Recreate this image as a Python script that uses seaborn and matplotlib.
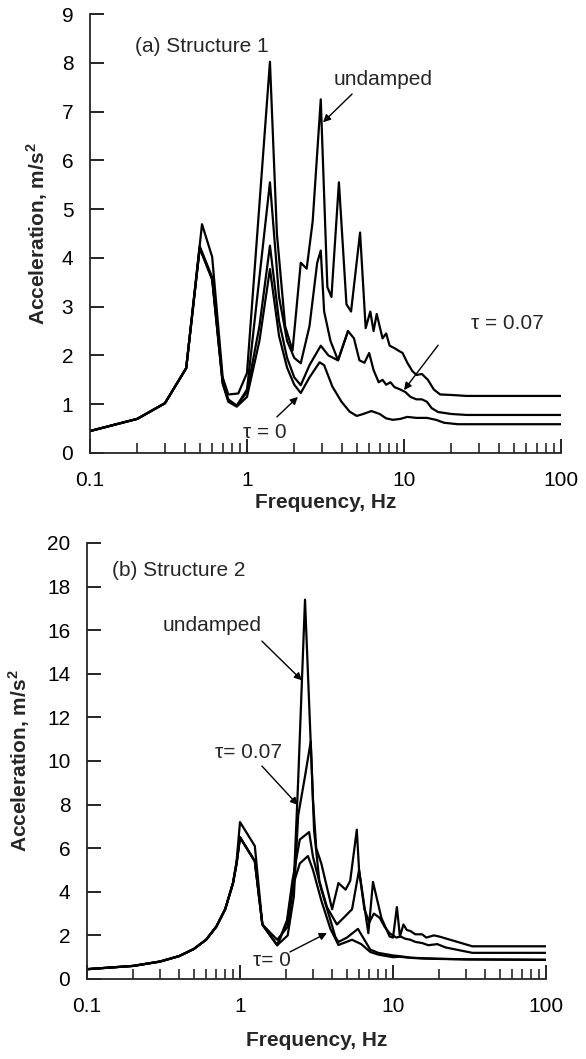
import matplotlib
matplotlib.use("Agg")
import matplotlib.pyplot as plt
from matplotlib.ticker import LogLocator, NullFormatter, FixedLocator
import seaborn as sns
import pandas as pd

# ---------------- data: panel (a) Structure 1 ----------------
a_und_f = [0.1, 0.2, 0.3, 0.41, 0.517, 0.6, 0.7, 0.76, 0.88, 1.0, 1.4, 1.55, 1.75, 1.95, 2.2, 2.4, 2.62,
           2.95, 3.25, 3.45, 3.85, 4.3, 4.6, 5.25, 5.7, 6.1, 6.4, 6.7, 7.3, 7.7, 8.1, 8.7, 9.2, 9.8,
           10.5, 11.3, 12.0, 13.0, 14.2, 15.5, 17, 20, 25, 100]
a_und_v = [0.45, 0.7, 1.02, 1.74, 4.69, 4.02, 1.55, 1.2, 1.22, 1.64, 8.02, 4.5, 2.6, 2.1, 3.9, 3.78, 4.75,
           7.25, 3.4, 3.2, 5.55, 3.05, 2.9, 4.52, 2.56, 2.9, 2.5, 2.85, 2.35, 2.45, 2.2, 2.15, 2.1, 2.05,
           1.85, 1.68, 1.6, 1.62, 1.5, 1.3, 1.2, 1.19, 1.17, 1.17]

a_t007_f = [0.1, 0.2, 0.3, 0.41, 0.5, 0.6, 0.7, 0.76, 0.86, 1.0, 1.4, 1.6, 1.8, 2.0, 2.2, 2.5, 2.8, 2.95,
            3.1, 3.4, 3.8, 4.4, 4.8, 5.2, 5.6, 6.0, 6.4, 6.9, 7.3, 7.7, 8.2, 8.7, 9.5, 10.2, 11, 12, 13,
            14, 15, 16.5, 20, 25, 100]
a_t007_v = [0.45, 0.7, 1.02, 1.74, 4.24, 3.6, 1.45, 1.1, 0.97, 1.3, 5.55, 3.2, 2.3, 1.95, 1.84, 2.6, 3.9,
            4.15, 2.9, 2.3, 1.9, 2.5, 2.35, 1.9, 1.85, 2.05, 1.7, 1.45, 1.5, 1.4, 1.45, 1.35, 1.3, 1.25,
            1.15, 1.1, 1.1, 1.05, 0.92, 0.84, 0.8, 0.78, 0.78]

a_mid_f = [0.1, 0.2, 0.3, 0.41, 0.5, 0.6, 0.7, 0.76, 0.86, 1.0, 1.2, 1.4, 1.6, 1.8, 2.0, 2.2, 2.5, 2.95,
           3.3, 3.8, 4.4]
a_mid_v = [0.45, 0.7, 1.02, 1.74, 4.2, 3.58, 1.45, 1.08, 0.97, 1.25, 2.6, 4.25, 2.7, 1.95, 1.55, 1.39,
           1.8, 2.2, 2.0, 1.9, 2.5]

a_t0_f = [0.1, 0.2, 0.3, 0.41, 0.5, 0.6, 0.7, 0.76, 0.86, 1.0, 1.2, 1.4, 1.6, 1.8, 2.0, 2.2, 2.5, 2.9,
          3.1, 3.5, 4.0, 4.5, 5.0, 5.5, 6.2, 7.0, 7.7, 8.5, 9.5, 10.5, 12, 14, 16, 18, 22, 100]
a_t0_v = [0.45, 0.7, 1.02, 1.74, 4.2, 3.55, 1.42, 1.05, 0.95, 1.15, 2.3, 3.77, 2.4, 1.75, 1.4, 1.23, 1.55,
          1.86, 1.8, 1.36, 1.05, 0.85, 0.76, 0.8, 0.86, 0.8, 0.71, 0.68, 0.7, 0.74, 0.72, 0.72, 0.68,
          0.62, 0.59, 0.59]

# ---------------- data: panel (b) Structure 2 ----------------
b_und_f = [0.1, 0.2, 0.3, 0.4, 0.5, 0.6, 0.7, 0.8, 0.9, 0.95, 1.0, 1.25, 1.4, 1.75, 2.05, 2.25, 2.4, 2.54,
           2.66, 3.0, 3.15, 3.4, 4.0, 4.4, 4.9, 5.25, 5.8, 6.0, 6.9, 7.4, 8.4, 9.5, 10.0, 10.6, 11.1,
           11.7, 12.3, 13.0, 14.0, 15.5, 16.5, 18.5, 20, 25, 33, 100]
b_und_v = [0.45, 0.6, 0.8, 1.05, 1.38, 1.8, 2.4, 3.2, 4.4, 5.4, 7.2, 6.1, 2.5, 1.8, 2.4, 4.5, 9.1, 13.7,
           17.4, 8.2, 6.0, 5.3, 3.2, 4.4, 4.1, 4.5, 6.85, 5.0, 2.1, 4.45, 2.8, 1.95, 1.9, 3.3, 1.95,
           2.5, 2.25, 2.2, 2.05, 2.05, 1.9, 2.0, 1.95, 1.75, 1.5, 1.5]

b_t007_f = [0.1, 0.2, 0.3, 0.4, 0.5, 0.6, 0.7, 0.8, 0.9, 0.95, 1.0, 1.25, 1.4, 1.75, 2.05, 2.25, 2.4,
            2.66, 2.9, 3.05, 3.3, 3.7, 4.3, 4.9, 5.4, 6.0, 6.5, 7.0, 7.5, 8.2, 8.8, 9.5, 10.5, 11.2, 12,
            13, 14, 15.5, 17, 19.5, 22, 28, 33, 100]
b_t007_v = [0.45, 0.6, 0.8, 1.05, 1.38, 1.8, 2.4, 3.2, 4.4, 5.3, 6.5, 5.4, 2.5, 1.55, 2.0, 3.8, 7.5,
            9.3, 10.9, 6.8, 4.5, 3.3, 2.5, 2.9, 3.2, 5.0, 3.2, 2.6, 3.0, 2.8, 2.4, 2.1, 1.9, 1.95,
            1.85, 1.8, 1.7, 1.65, 1.55, 1.6, 1.45, 1.3, 1.2, 1.2]

b_mid_f = [0.1, 0.2, 0.3, 0.4, 0.5, 0.6, 0.7, 0.8, 0.9, 0.95, 1.0, 1.25, 1.4, 1.75, 2.03, 2.2, 2.46,
           2.83, 3.0, 3.4, 3.9, 4.2, 4.4, 5.0, 5.9, 6.5, 7.1, 8.0, 10, 11, 13, 16, 20, 30, 100]
b_mid_v = [0.45, 0.6, 0.8, 1.05, 1.38, 1.8, 2.4, 3.2, 4.4, 5.3, 6.5, 5.4, 2.5, 1.55, 2.7, 4.5, 6.4,
           6.74, 5.6, 4.1, 2.7, 1.93, 1.7, 1.9, 2.3, 1.8, 1.35, 1.2, 1.08, 1.05, 0.98, 0.95, 0.93,
           0.9, 0.88]

b_t0_f = [0.1, 0.2, 0.3, 0.4, 0.5, 0.6, 0.7, 0.8, 0.9, 0.95, 1.0, 1.25, 1.4, 1.75, 2.03, 2.2, 2.46,
          2.78, 3.0, 3.4, 3.9, 4.4, 5.4, 6.2, 7.1, 8.0, 10, 11, 13, 15.6, 20, 30, 100]
b_t0_v = [0.45, 0.6, 0.8, 1.05, 1.38, 1.8, 2.4, 3.2, 4.4, 5.3, 6.5, 5.4, 2.5, 1.55, 2.6, 4.2, 5.3,
          5.64, 5.0, 3.6, 2.3, 1.56, 1.8, 1.6, 1.24, 1.12, 1.0, 1.02, 0.97, 0.94, 0.92, 0.9, 0.88]

x_ticks = [0.1, 1, 10, 100]
x_tick_labels = ["0.1", "1", "10", "100"]
a_y_ticks = [0, 1, 2, 3, 4, 5, 6, 7, 8, 9]
b_y_ticks = [0, 2, 4, 6, 8, 10, 12, 14, 16, 18, 20]

# ---------------- style ----------------
sns.set_style("ticks")
plt.rcParams['font.family'] = ['Liberation Sans', 'DejaVu Sans']
plt.rcParams['mathtext.fontset'] = 'custom'
plt.rcParams['mathtext.rm'] = 'Liberation Sans'
plt.rcParams['mathtext.bf'] = 'Liberation Sans:bold'
plt.rcParams['axes.linewidth'] = 1.3

fig = plt.figure(figsize=(5.86, 10.59), dpi=100)
ax1 = fig.add_axes([90 / 586, 1 - 453 / 1059, 471 / 586, 439 / 1059])
ax2 = fig.add_axes([87 / 586, 1 - 979 / 1059, 459 / 586, 436 / 1059])

LW = 1.6


def draw(ax, curves):
    for f, v in curves:
        df = pd.DataFrame({"f": f, "v": v})
        sns.lineplot(data=df, x="f", y="v", ax=ax, color="black", linewidth=LW,
                     estimator=None, sort=False, legend=False)


draw(ax1, [(a_und_f, a_und_v), (a_t007_f, a_t007_v), (a_mid_f, a_mid_v), (a_t0_f, a_t0_v)])
draw(ax2, [(b_und_f, b_und_v), (b_t007_f, b_t007_v), (b_mid_f, b_mid_v), (b_t0_f, b_t0_v)])


def style(ax, yticks, ymax):
    ax.set_xscale("log")
    ax.set_xlim(0.1, 100)
    ax.set_ylim(0, ymax)
    ax.xaxis.set_major_locator(FixedLocator(x_ticks))
    ax.set_xticklabels(x_tick_labels)
    ax.xaxis.set_minor_locator(LogLocator(base=10, subs=[2, 3, 4, 5, 6, 7, 8, 9]))
    ax.xaxis.set_minor_formatter(NullFormatter())
    ax.set_yticks(yticks)
    ax.set_yticklabels([str(t) for t in yticks])
    sns.despine(ax=ax)
    ax.tick_params(axis="both", which="major", direction="in", length=10, width=1.2,
                   labelsize=15, colors="black")
    ax.tick_params(axis="y", which="major", pad=12)
    ax.tick_params(axis="x", which="major", pad=13)
    ax.tick_params(axis="x", which="minor", direction="in", length=7, width=1.2)
    ax.set_xlabel("Frequency, Hz", fontsize=15, fontweight="bold")
    ax.set_ylabel(r"Acceleration, m/s$^\mathbf{2}$", fontsize=15, fontweight="bold")
    ax.xaxis.set_label_coords(0.5, -0.09)


style(ax1, a_y_ticks, 9)
style(ax2, b_y_ticks, 20)
ax1.yaxis.set_label_coords(-0.085, 0.5)
ax2.xaxis.set_label_coords(0.5, -0.12)
ax2.yaxis.set_label_coords(-0.12, 0.5)

FS = 15
arrow = dict(arrowstyle="-|>", color="black", lw=1.0, mutation_scale=11, shrinkA=0, shrinkB=0)

# panel (a) annotations
ax1.text(0.0955, 0.927, "(a) Structure 1", transform=ax1.transAxes, fontsize=FS, va="center", ha="left")
ax1.text(7.35, 7.66, "undamped", fontsize=FS, ha="center", va="center")
ax1.annotate("", xy=(3.05, 6.78), xytext=(4.67, 7.36), arrowprops=arrow)
ax1.text(45.3, 2.66, "τ = 0.07", fontsize=FS, ha="center", va="center")
ax1.annotate("", xy=(10.0, 1.29), xytext=(16.5, 2.21), arrowprops=arrow)
ax1.text(1.30, 0.43, "τ = 0", fontsize=FS, ha="center", va="center")
ax1.annotate("", xy=(2.11, 1.15), xytext=(1.55, 0.74), arrowprops=arrow)

# panel (b) annotations
ax2.text(0.054, 0.938, "(b) Structure 2", transform=ax2.transAxes, fontsize=FS, va="center", ha="left")
ax2.text(0.656, 16.2, "undamped", fontsize=FS, ha="center", va="center")
ax2.annotate("", xy=(2.54, 13.7), xytext=(1.39, 15.5), arrowprops=arrow)
ax2.text(1.13, 10.4, "τ= 0.07", fontsize=FS, ha="center", va="center")
ax2.annotate("", xy=(2.39, 7.98), xytext=(1.39, 9.77), arrowprops=arrow)
ax2.text(1.62, 0.87, "τ= 0", fontsize=FS, ha="center", va="center")
ax2.annotate("", xy=(3.7, 2.11), xytext=(2.12, 1.24), arrowprops=arrow)

fig.savefig("out.png", dpi=100)
